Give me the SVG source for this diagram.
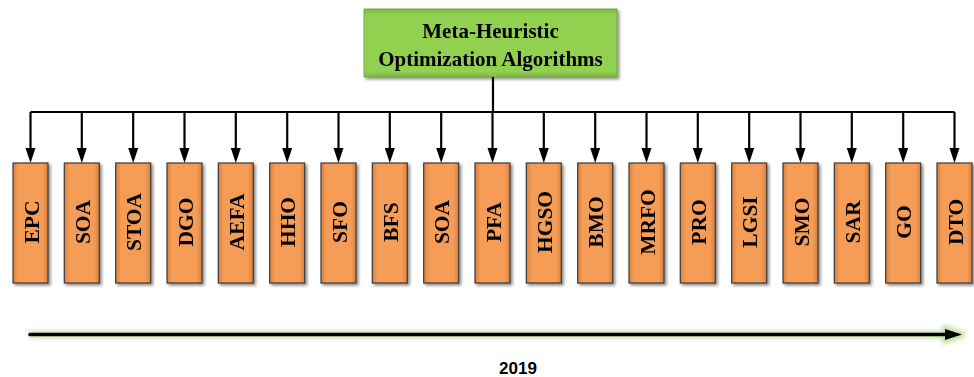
<svg xmlns="http://www.w3.org/2000/svg" width="974" height="377" viewBox="0 0 974 377">
<defs>
<style>
.box{fill:url(#og);stroke:#3a3a3a;stroke-width:1.2}
.lbl{font-family:"Liberation Serif","Times New Roman",serif;font-weight:bold;font-size:21.5px;fill:#000;text-anchor:middle}
.wire{stroke:#000;stroke-width:2.2;fill:none}
.title{font-family:"Liberation Serif","Times New Roman",serif;font-weight:bold;font-size:21px;fill:#000;text-anchor:middle}
</style>
<linearGradient id="og" x1="0" y1="0" x2="1" y2="0">
<stop offset="0" stop-color="#d9813e"/>
<stop offset="0.15" stop-color="#f59d56"/>
<stop offset="0.85" stop-color="#f59d56"/>
<stop offset="1" stop-color="#d9813e"/>
</linearGradient>
<linearGradient id="gg" x1="0" y1="0" x2="0" y2="1">
<stop offset="0" stop-color="#7fb845"/>
<stop offset="0.08" stop-color="#92d050"/>
<stop offset="0.92" stop-color="#92d050"/>
<stop offset="1" stop-color="#7fb845"/>
</linearGradient>
<filter id="sh" x="-20%" y="-20%" width="140%" height="140%">
<feGaussianBlur in="SourceAlpha" stdDeviation="1.5"/>
<feOffset dx="1.5" dy="1.5" result="b"/>
<feComponentTransfer><feFuncA type="linear" slope="0.45"/></feComponentTransfer>
<feMerge><feMergeNode/><feMergeNode in="SourceGraphic"/></feMerge>
</filter>
<filter id="glow" x="-5%" y="-200%" width="110%" height="500%">
<feGaussianBlur stdDeviation="2"/>
</filter>
</defs>

<g id="root" filter="url(#sh)">
<rect x="364" y="9" width="253" height="68" fill="url(#gg)" stroke="#6a9a3a" stroke-width="0.8"/>
<text class="title" x="490.5" y="38">Meta-Heuristic</text>
<text class="title" x="490.5" y="66">Optimization Algorithms</text>
</g>

<g id="connectors">
<line class="wire" x1="493" y1="77" x2="493" y2="112"/>
<line class="wire" x1="30.5" y1="112" x2="954.5" y2="112"/>
<g fill="#000">
<path class="wire" d="M30.5 112V150 M81.8 112V150 M133.2 112V150 M184.5 112V150 M235.8 112V150 M287.2 112V150 M338.5 112V150 M389.8 112V150 M441.2 112V150 M492.5 112V150 M543.8 112V150 M595.2 112V150 M646.5 112V150 M697.8 112V150 M749.2 112V150 M800.5 112V150 M851.8 112V150 M903.2 112V150 M954.5 112V150"/>
<path d="M25.5 148h10l-5 15z M76.8 148h10l-5 15z M128.2 148h10l-5 15z M179.5 148h10l-5 15z M230.8 148h10l-5 15z M282.2 148h10l-5 15z M333.5 148h10l-5 15z M384.8 148h10l-5 15z M436.2 148h10l-5 15z M487.5 148h10l-5 15z M538.8 148h10l-5 15z M590.2 148h10l-5 15z M641.5 148h10l-5 15z M692.8 148h10l-5 15z M744.2 148h10l-5 15z M795.5 148h10l-5 15z M846.8 148h10l-5 15z M898.2 148h10l-5 15z M949.5 148h10l-5 15z"/>
</g>
</g>

<g id="n0" filter="url(#sh)"><rect class="box" x="13" y="163" width="35" height="120"/><text class="lbl" transform="translate(38.5,222) rotate(-90)">EPC</text></g>
<g id="n1" filter="url(#sh)"><rect class="box" x="64.3" y="163" width="35" height="120"/><text class="lbl" transform="translate(89.8,222) rotate(-90)">SOA</text></g>
<g id="n2" filter="url(#sh)"><rect class="box" x="115.7" y="163" width="35" height="120"/><text class="lbl" transform="translate(141.2,222) rotate(-90)">STOA</text></g>
<g id="n3" filter="url(#sh)"><rect class="box" x="167" y="163" width="35" height="120"/><text class="lbl" transform="translate(192.5,222) rotate(-90)">DGO</text></g>
<g id="n4" filter="url(#sh)"><rect class="box" x="218.3" y="163" width="35" height="120"/><text class="lbl" transform="translate(243.8,222) rotate(-90)">AEFA</text></g>
<g id="n5" filter="url(#sh)"><rect class="box" x="269.7" y="163" width="35" height="120"/><text class="lbl" transform="translate(295.2,222) rotate(-90)">HHO</text></g>
<g id="n6" filter="url(#sh)"><rect class="box" x="321" y="163" width="35" height="120"/><text class="lbl" transform="translate(346.5,222) rotate(-90)">SFO</text></g>
<g id="n7" filter="url(#sh)"><rect class="box" x="372.3" y="163" width="35" height="120"/><text class="lbl" transform="translate(397.8,222) rotate(-90)">BFS</text></g>
<g id="n8" filter="url(#sh)"><rect class="box" x="423.7" y="163" width="35" height="120"/><text class="lbl" transform="translate(449.2,222) rotate(-90)">SOA</text></g>
<g id="n9" filter="url(#sh)"><rect class="box" x="475" y="163" width="35" height="120"/><text class="lbl" transform="translate(500.5,222) rotate(-90)">PFA</text></g>
<g id="n10" filter="url(#sh)"><rect class="box" x="526.3" y="163" width="35" height="120"/><text class="lbl" transform="translate(551.8,222) rotate(-90)">HGSO</text></g>
<g id="n11" filter="url(#sh)"><rect class="box" x="577.7" y="163" width="35" height="120"/><text class="lbl" transform="translate(603.2,222) rotate(-90)">BMO</text></g>
<g id="n12" filter="url(#sh)"><rect class="box" x="629" y="163" width="35" height="120"/><text class="lbl" transform="translate(654.5,222) rotate(-90)">MRFO</text></g>
<g id="n13" filter="url(#sh)"><rect class="box" x="680.3" y="163" width="35" height="120"/><text class="lbl" transform="translate(705.8,222) rotate(-90)">PRO</text></g>
<g id="n14" filter="url(#sh)"><rect class="box" x="731.7" y="163" width="35" height="120"/><text class="lbl" transform="translate(757.2,222) rotate(-90)">LGSI</text></g>
<g id="n15" filter="url(#sh)"><rect class="box" x="783" y="163" width="35" height="120"/><text class="lbl" transform="translate(808.5,222) rotate(-90)">SMO</text></g>
<g id="n16" filter="url(#sh)"><rect class="box" x="834.3" y="163" width="35" height="120"/><text class="lbl" transform="translate(859.8,222) rotate(-90)">SAR</text></g>
<g id="n17" filter="url(#sh)"><rect class="box" x="885.7" y="163" width="35" height="120"/><text class="lbl" transform="translate(911.2,222) rotate(-90)">GO</text></g>
<g id="n18" filter="url(#sh)"><rect class="box" x="937" y="163" width="35" height="120"/><text class="lbl" transform="translate(962.5,222) rotate(-90)">DTO</text></g>

<g id="timeline">
<path d="M29 334.5H948 M945 328.5L962 334.5L945 340.5Z" stroke="#c6e0a4" stroke-width="7" fill="#c6e0a4" stroke-linejoin="round" filter="url(#glow)"/>
<line x1="30" y1="334.5" x2="947" y2="334.5" stroke="#000" stroke-width="3.5" stroke-linecap="round"/>
<path d="M945 329L962 334.5L945 340Z" fill="#000"/>
<text x="518" y="374" font-family="Liberation Sans, Arial, sans-serif" font-weight="bold" font-size="17" text-anchor="middle">2019</text>
</g>
</svg>
